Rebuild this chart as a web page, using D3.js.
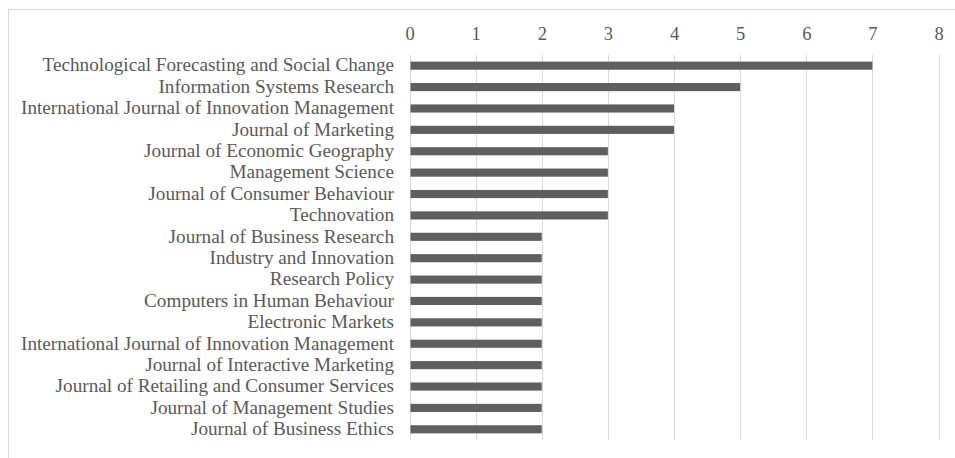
<!DOCTYPE html>
<html><head><meta charset="utf-8">
<script src="https://cdn.jsdelivr.net/npm/d3@7"></script>
<style>body{margin:0;background:#fff}svg{display:block}</style>
</head><body>
<script>
const categories = [
 "Technological Forecasting and Social Change",
 "Information Systems Research",
 "International Journal of Innovation Management",
 "Journal of Marketing",
 "Journal of Economic Geography",
 "Management Science",
 "Journal of Consumer Behaviour",
 "Technovation",
 "Journal of Business Research",
 "Industry and Innovation",
 "Research Policy",
 "Computers in Human Behaviour",
 "Electronic Markets",
 "International Journal of Innovation Management",
 "Journal of Interactive Marketing",
 "Journal of Retailing and Consumer Services",
 "Journal of Management Studies",
 "Journal of Business Ethics"
];
const values = [7,5,4,4,3,3,3,3,2,2,2,2,2,2,2,2,2,2];
const tickValues = [0,1,2,3,4,5,6,7,8];

const W=955,H=458;
const FONT='Liberation Serif';
const svg=d3.select("body").append("svg").attr("width",W).attr("height",H);
svg.append("rect").attr("x",8.5).attr("y",9.5).attr("width",W+10).attr("height",H+10)
  .attr("fill","#fff").attr("stroke","#d9d9d9").attr("stroke-width",1);

const x=d3.scaleLinear().domain([0,8]).range([409.5,938.5]);
const idx=categories.map((c,i)=>i);
const y=d3.scaleBand().domain(idx).range([55,440]).paddingInner(0.62).paddingOuter(0.31);

const g=svg.append("g");
g.selectAll("line.grid").data(tickValues).join("line").attr("class","grid")
 .attr("x1",d=>Math.round(x(d))+0.5).attr("x2",d=>Math.round(x(d))+0.5)
 .attr("y1",55).attr("y2",440).attr("stroke","#d9d9d9").attr("stroke-width",1);

const axis=d3.axisTop(x).tickValues(tickValues).tickSize(0).tickPadding(0).tickFormat(d3.format("d"));
const ax=svg.append("g").attr("transform","translate(0,40)").call(axis);
ax.attr("font-family",FONT).attr("font-size",18.5);
ax.select(".domain").remove();
ax.selectAll("text").attr("fill","#595959");

g.selectAll("rect.bar").data(values).join("rect").attr("class","bar")
 .attr("x",x(0)+1).attr("y",(d,i)=>y(i)).attr("height",y.bandwidth())
 .attr("width",d=>x(d)-x(0)-1).attr("fill","#5f5f5f");

g.selectAll("text.lab").data(categories).join("text").attr("class","lab")
 .attr("x",394).attr("y",(d,i)=>y(i)+y.bandwidth()/2).attr("dy","0.3em")
 .attr("text-anchor","end").attr("fill","#595959")
 .attr("font-family",FONT).attr("font-size",19.2)
 .text(d=>d);
</script>
</body></html>
